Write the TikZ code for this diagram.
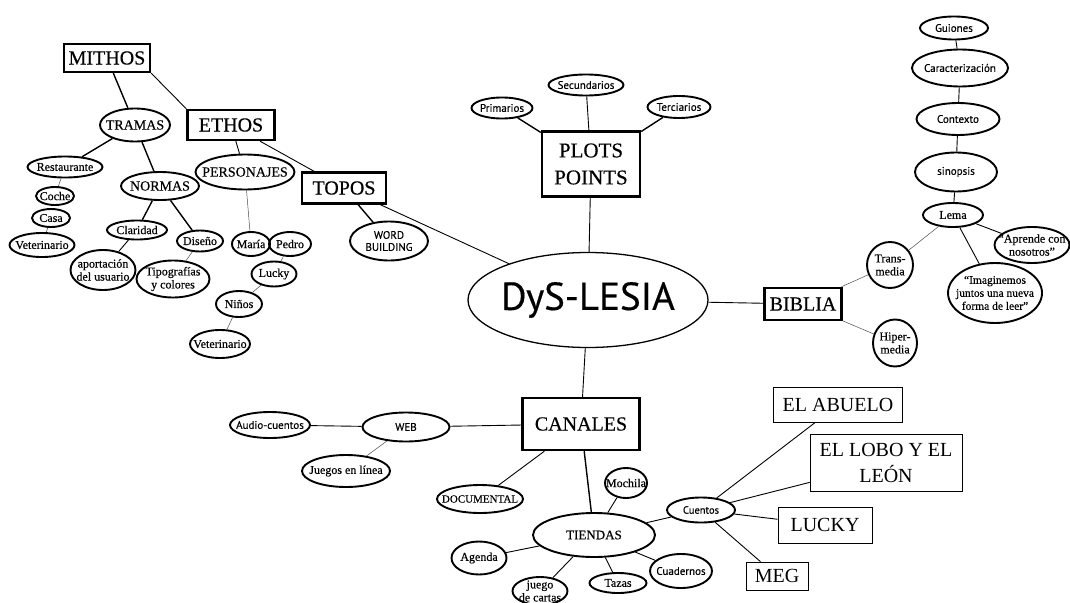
\documentclass[tikz,border=0pt]{standalone}
\usepackage{fontspec}
\setmainfont[FakeBold=0.4]{Liberation Serif}
\newfontfamily\sansfont[FakeBold=0.4]{PT Sans}
\newfontfamily\plainserif{Liberation Serif}
\usepackage{tikz}
\usetikzlibrary{shapes.geometric}

\newcommand{\sz}[2]{\fontsize{#1}{#2}\selectfont}

\begin{document}
\begin{tikzpicture}[x=1pt, y=-1pt,
    box/.style={draw, line width=2.4pt, inner sep=0pt, align=center, font=\sz{20}{26}},
    thinbox/.style={draw, line width=0.7pt, inner sep=0pt, align=center, font=\plainserif\sz{20}{26}},
    oval/.style 2 args={ellipse, draw, line width=1.9pt, inner sep=-10pt,
      minimum width=#1, minimum height=#2, align=center, font=\sz{12}{13}},
    sans/.style={font=\sansfont\sz{11}{12}},
    link/.style={line width=0.9pt},
    boldlink/.style={line width=1.4pt},
    faintlink/.style={line width=0.5pt, black!70}]
  \useasboundingbox (0,0) rectangle (1070,602);

  % Left part: MITHOS, ETHOS, TOPOS
  \node[box, minimum width=86, minimum height=28] (mithos) at (107,58) {MITHOS};
  \node[box, minimum width=87, minimum height=30] (ethos) at (231,125) {ETHOS};
  \node[box, minimum width=84, minimum height=31] (topos) at (344,188) {TOPOS};

  \node[oval={70}{33}, font=\sz{14}{15}] (tramas) at (135,125) {TRAMAS};
  \node[oval={78}{28}, font=\sz{14}{15}] (normas) at (160,186) {NORMAS};
  \node[oval={99}{35}, font=\sz{14}{15}] (personajes) at (245,172) {PERSONAJES};
  \node[oval={75}{21}] (restaurante) at (65,167) {Restaurante};
  \node[oval={38}{18}] (coche) at (55,196) {Coche};
  \node[oval={38}{18}] (casa) at (51,218) {Casa};
  \node[oval={65}{24}] (vet1) at (42,245) {Veterinario};
  \node[oval={60}{19}] (claridad) at (137,230) {Claridad};
  \node[oval={46}{21}] (diseno) at (200,241) {Diseño};
  \node[oval={65}{40}] (aportacion) at (103,270) {aportación\\del usuario};
  \node[oval={73}{37}] (tipografias) at (173,279) {Tipografías\\y colores};
  \node[oval={38}{24}] (maria) at (251,244) {María};
  \node[oval={42}{24}] (pedro) at (290,244) {Pedro};
  \node[oval={45}{25}] (lucky) at (274,274) {Lucky};
  \node[oval={46}{26}] (ninos) at (239,304) {Niños};
  \node[oval={60}{28}] (vet2) at (220,344) {Veterinario};
  \node[oval={78}{39}, sans] (word) at (389,241) {WORD\\BUILDING};

  % Centre and PLOTS POINTS
  \node[oval={240}{95}, line width=1.3pt, font=\sansfont\sz{39}{40}] (dys) at (588,300) {DyS-LESIA};
  \node[box, minimum width=98, minimum height=65, font=\sz{21}{27}] (plots) at (591,164) {PLOTS\\POINTS};
  \node[oval={61}{21}, sans] (primarios) at (502,108) {Primarios};
  \node[oval={75}{21}, sans] (secundarios) at (586,85) {Secundarios};
  \node[oval={63}{22}, sans] (terciarios) at (679,107) {Terciarios};

  % Right part: BIBLIA
  \node[box, minimum width=77, minimum height=32] (biblia) at (803,304) {BIBLIA};
  \node[oval={46}{46}] (trans) at (890,265) {Trans-\\media};
  \node[oval={44}{47}] (hiper) at (895,343) {Hiper-\\media};
  \node[oval={60}{24}] (lema) at (953,215) {Lema};
  \node[oval={75}{36}] (aprende) at (1032,245) {``Aprende con\\nosotros''};
  \node[oval={94}{60}, font=\sz{11.5}{13}] (imaginemos) at (995,293) {``Imaginemos\\juntos una nueva\\forma de leer''};
  \node[oval={68}{23}, sans] (guiones) at (954,28) {Guiones};
  \node[oval={96}{37}, sans] (caract) at (960,68) {Caracterización};
  \node[oval={83}{32}, sans] (contexto) at (958,119) {Contexto};
  \node[oval={82}{39}, sans] (sinopsis) at (956,172) {sinopsis};

  % Bottom part: CANALES
  \node[box, minimum width=117, minimum height=52] (canales) at (581,424) {CANALES};
  \node[oval={87}{29}, sans] (web) at (406,427) {WEB};
  \node[oval={80}{26}, sans] (audio) at (270,425) {Audio-cuentos};
  \node[oval={88}{32}] (juegos) at (346,471) {Juegos en línea};
  \node[oval={86}{28}, font=\sz{11}{12}] (documental) at (480,499) {DOCUMENTAL};
  \node[oval={122}{44}, font=\sz{13}{14}] (tiendas) at (594,535) {TIENDAS};
  \node[oval={42}{30}] (mochila) at (626,483) {Mochila};
  \node[oval={55}{33}] (agenda) at (479,558) {Agenda};
  \node[oval={55}{28}] (juego) at (540,591) {juego\\de cartas};
  \node[oval={57}{20}] (tazas) at (618,583) {Tazas};
  \node[oval={62}{34}, sans] (cuadernos) at (681,571) {Cuadernos};
  \node[oval={68}{25}, sans, font=\sansfont\sz{10.5}{12}] (cuentos) at (701,510) {Cuentos};
  \node[thinbox, minimum width=129, minimum height=35] (abuelo) at (838,405) {EL ABUELO};
  \node[thinbox, minimum width=152, minimum height=57] (lobo) at (886,463) {EL LOBO Y EL\\LEÓN};
  \node[thinbox, minimum width=94, minimum height=36] (luckybox) at (825,525) {LUCKY};
  \node[thinbox, minimum width=62, minimum height=28] (meg) at (777,576) {MEG};

  % Connectors
  \path[link]
    (mithos) edge[boldlink] (tramas)
    (mithos.south east) edge (ethos.north west)
    (tramas) edge[boldlink] (restaurante)
             edge[boldlink] (normas)
    (restaurante) edge[faintlink] (coche)
    (casa) edge[faintlink] (vet1)
    (normas) edge[boldlink] (claridad)
             edge[boldlink] (diseno)
    (claridad) edge (aportacion)
    (diseno) edge[faintlink] (tipografias)
    (ethos) edge (personajes)
            edge (topos)
    (personajes) edge[faintlink] (maria)
    (maria) edge (pedro)
    (pedro) edge[faintlink] (lucky)
    (lucky) edge[faintlink] (ninos)
    (ninos) edge[faintlink] (vet2)
    (topos) edge[boldlink] (word)
            edge (dys);

  \path[link]
    (plots) edge[boldlink] (primarios)
            edge (secundarios)
            edge[boldlink] (terciarios)
            edge (dys)
    (dys) edge (biblia)
    (biblia) edge[faintlink] (trans)
             edge[faintlink] (hiper)
    (trans) edge[faintlink] (lema)
    (lema) edge (sinopsis)
           edge (aprende)
           edge (imaginemos)
    (sinopsis) edge (contexto)
    (contexto) edge (caract)
    (caract) edge (guiones);

  \path[link]
    (dys) edge (canales)
    (canales) edge (web)
              edge (documental)
              edge[boldlink] (tiendas)
    (web) edge (audio)
          edge[faintlink] (juegos)
    (tiendas) edge (mochila)
              edge (cuentos)
              edge (agenda)
              edge (juego)
              edge (tazas)
              edge (cuadernos)
    (cuentos) edge (abuelo)
              edge (lobo)
              edge (luckybox)
              edge (meg);
\end{tikzpicture}
\end{document}
